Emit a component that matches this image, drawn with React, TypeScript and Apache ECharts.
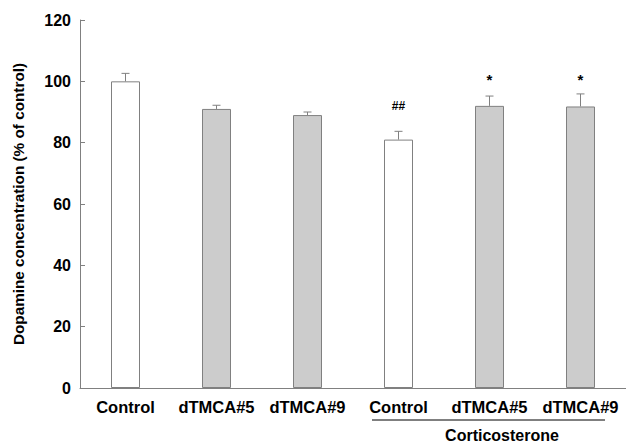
import React, { useEffect, useRef } from "react";
import * as echarts from "echarts";

const categories = ["Control", "dTMCA#5", "dTMCA#9", "Control", "dTMCA#5", "dTMCA#9"];
const means = [100, 91, 89, 81, 92, 91.8];
const errors = [2.6, 1.2, 1.0, 2.7, 3.2, 4.1];
const fills = ["#ffffff", "#cccccc", "#cccccc", "#ffffff", "#cccccc", "#cccccc"];
const annotations = ["", "", "", "##", "*", "*"];
const annotationY = [null, null, null, 92, 100.5, 100.5];
const yTicks = [0, 20, 40, 60, 80, 100, 120];
const groupLabel = "Corticosterone";
const yTitle = "Dopamine concentration (% of control)";

const FONT = "Liberation Sans, Arial, Helvetica, sans-serif";
const GRAY = "#808080";

export default function App() {
  const ref = useRef<HTMLDivElement>(null);
  useEffect(() => {
    if (!ref.current) return;
    const chart = echarts.init(ref.current, null, { renderer: "svg" });
    chart.setOption({
      animation: false,
      backgroundColor: "#ffffff",
      grid: { left: 80, top: 20, width: 549, height: 368, containLabel: false },
      xAxis: {
        type: "category",
        data: categories,
        axisLine: { lineStyle: { color: GRAY, width: 1 } },
        axisTick: { show: false },
        axisLabel: {
          color: "#000",
          fontWeight: "bold",
          fontSize: 16.5,
          fontFamily: FONT,
          margin: 10,
          interval: 0,
        },
      },
      yAxis: {
        type: "value",
        min: yTicks[0],
        max: yTicks[yTicks.length - 1],
        interval: 20,
        name: yTitle,
        nameLocation: "middle",
        nameRotate: 90,
        nameGap: 54,
        nameTextStyle: { color: "#000", fontWeight: "bold", fontSize: 15.3, fontFamily: FONT },
        axisLine: { show: true, lineStyle: { color: GRAY, width: 1 } },
        axisTick: { show: true, inside: true, length: 5, lineStyle: { color: GRAY } },
        splitLine: { show: false },
        axisLabel: {
          color: "#000",
          fontWeight: "bold",
          fontSize: 16,
          fontFamily: FONT,
          margin: 9,
        },
      },
      series: [
        {
          type: "bar",
          barWidth: 29,
          data: means.map((v, i) => ({
            value: v,
            itemStyle: { color: fills[i], borderColor: GRAY, borderWidth: 1 },
          })),
          z: 2,
        },
        {
          type: "custom",
          z: 3,
          data: means.map((v, i) => [i, v, v + errors[i]]),
          renderItem: (params: any, api: any) => {
            const x = api.value(0);
            const base = api.coord([x, api.value(1)]);
            const top = api.coord([x, api.value(2)]);
            const hw = 4;
            return {
              type: "group",
              children: [
                {
                  type: "line",
                  shape: { x1: base[0], y1: base[1], x2: top[0], y2: top[1] },
                  style: { stroke: GRAY, lineWidth: 1 },
                },
                {
                  type: "line",
                  shape: { x1: top[0] - hw, y1: top[1], x2: top[0] + hw, y2: top[1] },
                  style: { stroke: GRAY, lineWidth: 1 },
                },
              ],
            };
          },
        },
        {
          type: "custom",
          z: 4,
          data: annotationY
            .map((y, i) => (y === null ? null : [i, y]))
            .filter((d) => d !== null),
          renderItem: (params: any, api: any) => {
            const p = api.coord([api.value(0), api.value(1)]);
            const txt = annotations[api.value(0)];
            const isStar = txt === "*";
            return {
              type: "text",
              x: p[0],
              y: p[1],
              style: {
                text: txt,
                fill: "#000",
                font: `bold ${isStar ? 15 : 12}px ${FONT}`,
                textAlign: "center",
                textVerticalAlign: "middle",
              },
            };
          },
        },
      ],
      graphic: [
        {
          type: "line",
          shape: { x1: 372, y1: 420, x2: 605, y2: 420 },
          style: { stroke: "#000", lineWidth: 1 },
        },
        {
          type: "text",
          x: 502,
          y: 435,
          style: {
            text: groupLabel,
            fill: "#000",
            font: `bold 16px ${FONT}`,
            textAlign: "center",
            textVerticalAlign: "middle",
          },
        },
      ],
    });
    return () => chart.dispose();
  }, []);
  return (
    <div
      ref={ref}
      style={{ position: "fixed", left: 0, top: 0, width: 626, height: 442, background: "#fff" }}
    />
  );
}
